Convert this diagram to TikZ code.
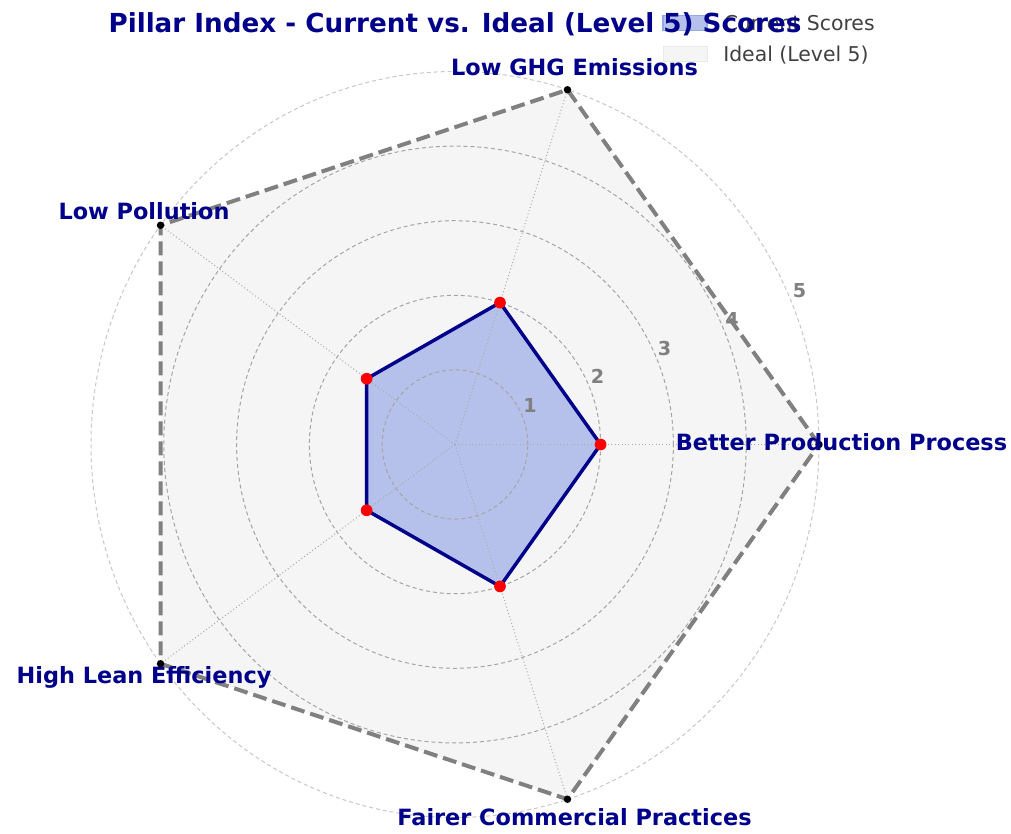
\documentclass[tikz,border=0pt]{standalone}
\usepackage{fontspec}
\setmainfont{DejaVu Sans}
\usetikzlibrary{calc}
\definecolor{navyc}{RGB}{0,0,139}
\definecolor{curfill}{RGB}{181,193,234}
\definecolor{curedge}{RGB}{150,168,228}
\definecolor{idealfill}{RGB}{245,245,245}
\definecolor{idealedge}{RGB}{128,128,128}
\definecolor{gridc}{RGB}{165,165,165}
\definecolor{outerc}{RGB}{200,200,200}
\definecolor{spokec}{RGB}{170,170,170}
\definecolor{tickc}{RGB}{128,128,128}
\definecolor{legc}{RGB}{64,64,64}
\tikzset{
  gridcircle/.style={draw=gridc, line width=0.75pt, dash pattern=on 3pt off 2.2pt},
  outercircle/.style={draw=outerc, line width=0.75pt, dash pattern=on 3pt off 2.2pt},
  spoke/.style={draw=spokec, line width=0.75pt, dash pattern=on 0.75pt off 1.8pt},
  idealline/.style={draw=idealedge, line width=3pt, dash pattern=on 10.5pt off 4.5pt},
  curline/.style={draw=navyc, line width=2.6pt, line join=round},
  redmark/.style={fill=red},
  blackmark/.style={fill=black},
  axlabel/.style={text=navyc, font=\fontsize{16.8}{20}\selectfont\bfseries, inner sep=0pt, anchor=base},
  ticklabel/.style={text=tickc, font=\fontsize{14.4}{17}\selectfont\bfseries, inner sep=0pt, anchor=base},
  legtext/.style={text=legc, font=\fontsize{15.3}{18}\selectfont, inner sep=0pt, anchor=base west},
  titletext/.style={text=navyc, font=\fontsize{19.65}{23}\selectfont\bfseries, inner sep=0pt, anchor=base}
}
\begin{document}
\begin{tikzpicture}[x=0.75pt,y=-0.75pt]
\useasboundingbox (0,0) rectangle (1011,833);
\fill[white] (0,0) rectangle (1011,833);
\coordinate (O) at (455,444.5);
\foreach \i/\a/\v in {0/0/2,1/72/2,2/144/1.5,3/216/1.5,4/288/2}{
  \coordinate (I\i) at ({455+364*cos(\a)},{444.5-373*sin(\a)});
  \coordinate (C\i) at ({455+72.8*\v*cos(\a)},{444.5-74.6*\v*sin(\a)});
}
% fills
\fill[idealfill] (I0)--(I1)--(I2)--(I3)--(I4)--cycle;
\fill[curfill] (C0)--(C1)--(C2)--(C3)--(C4)--cycle;
% grid
\foreach \k in {1,2,3,4}{
  \draw[gridcircle] (O) ellipse [x radius={54.6pt*\k}, y radius={55.95pt*\k}];
}
\draw[outercircle] (O) ellipse [x radius=273pt, y radius=279.75pt];
\foreach \i in {0,...,4}{ \draw[spoke] (O) -- (I\i); }
% outlines
\draw[idealline] (I0)--(I1)--(I2)--(I3)--(I4)--cycle;
\draw[curline] (C0)--(C1)--(C2)--(C3)--(C4)--cycle;
\foreach \i in {0,...,4}{
  \fill[blackmark] (I\i) circle (2.8pt);
  \fill[redmark] (C\i) circle (4.4pt);
}
% tick labels
\node[ticklabel] (t1) at (530,412) {1};
\node[ticklabel] (t2) at (597.5,383.5) {2};
\node[ticklabel] (t3) at (664.5,355) {3};
\node[ticklabel] (t4) at (732,326) {4};
\node[ticklabel] (t5) at (799.5,297) {5};
% axis labels
\node[axlabel] (l0) at (841.5,450) {Better Production Process};
\node[axlabel] (l1) at (574.5,75) {Low GHG Emissions};
\node[axlabel] (l2) at (144,219) {Low Pollution};
\node[axlabel] (l3) at (144,683) {High Lean Efficiency};
\node[axlabel] (l4) at (574.5,825) {Fairer Commercial Practices};
% legend
\fill[curfill, draw=curedge, line width=1pt] (663,15.5) rectangle (707,30.5);
\node[legtext] (lg1) at (723.5,30) {Current Scores};
\fill[idealfill, draw=idealfill!95!black, line width=0.5pt] (663,46) rectangle (707,61);
\node[legtext] (lg2) at (723,61) {Ideal (Level 5)};
% title
\node[titletext] (title) at (455,32) {Pillar Index - Current vs. Ideal (Level 5) Scores};
\end{tikzpicture}
\end{document}
